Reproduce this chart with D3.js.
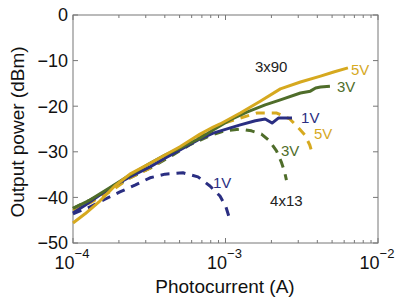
<!DOCTYPE html>
<html><head><meta charset="utf-8">
<script src="https://cdn.jsdelivr.net/npm/d3@7"></script>
<style>body{margin:0;background:#fff}svg{display:block}text{font-family:"Liberation Sans",Arial,sans-serif}</style>
</head><body><svg id="c" width="397" height="298"></svg>
<script>
// Data: [photocurrent (A), output power (dBm)]
const solid5V = [[1.00e-4,-45.6],[1.20e-4,-43.6],[1.50e-4,-40.8],[1.88e-4,-37.5],[2.36e-4,-34.9],[3.20e-4,-32.5],[4.01e-4,-30.7],[5.03e-4,-28.9],[6.81e-4,-26.1],[8.30e-4,-24.6],[9.22e-4,-23.9],[1.25e-3,-21.5],[1.69e-3,-18.9],[2.29e-3,-16.2],[3.10e-3,-14.7],[4.20e-3,-13.4],[5.12e-3,-12.5],[6.35e-3,-11.6]];
const solid3V = [[1.00e-4,-42.4],[1.29e-4,-40.6],[1.74e-4,-37.9],[2.36e-4,-35.1],[3.20e-4,-32.5],[4.01e-4,-30.7],[5.03e-4,-29.2],[6.81e-4,-27.0],[8.30e-4,-25.2],[1.07e-3,-23.0],[1.38e-3,-21.3],[1.82e-3,-19.7],[2.29e-3,-18.6],[3.10e-3,-17.1],[3.60e-3,-16.7],[3.90e-3,-16.0],[4.20e-3,-15.8],[4.84e-3,-15.6]];
const solid1V = [[1.00e-4,-43.4],[1.20e-4,-41.7],[1.50e-4,-39.5],[1.88e-4,-37.3],[2.36e-4,-35.5],[3.20e-4,-33.3],[4.01e-4,-31.4],[5.03e-4,-29.6],[6.60e-4,-27.4],[8.30e-4,-25.9],[1.25e-3,-24.1],[1.57e-3,-23.2],[1.82e-3,-22.8],[2.02e-3,-23.7],[2.22e-3,-22.6],[2.73e-3,-22.6]];
const dashed5V = [[1.00e-4,-42.8],[1.29e-4,-41.2],[1.74e-4,-38.8],[2.36e-4,-35.7],[3.20e-4,-33.6],[4.31e-4,-30.7],[5.81e-4,-27.9],[7.84e-4,-25.2],[9.82e-4,-23.7],[1.25e-3,-22.6],[1.61e-3,-21.5],[2.17e-3,-21.5],[2.64e-3,-22.8],[2.98e-3,-24.6],[3.31e-3,-26.3],[3.57e-3,-28.5],[3.73e-3,-30.7]];
const dashed3V = [[1.00e-4,-42.4],[1.29e-4,-40.6],[1.74e-4,-38.4],[2.36e-4,-35.7],[3.20e-4,-33.6],[4.31e-4,-31.1],[5.81e-4,-28.5],[7.84e-4,-26.5],[9.82e-4,-25.4],[1.25e-3,-25.0],[1.48e-3,-25.4],[1.72e-3,-26.1],[1.94e-3,-27.6],[2.16e-3,-29.8],[2.32e-3,-32.2],[2.44e-3,-34.4],[2.51e-3,-36.2]];
const dashed1V = [[1.00e-4,-43.6],[1.29e-4,-42.1],[1.62e-4,-40.4],[2.03e-4,-38.8],[2.55e-4,-37.3],[3.20e-4,-35.7],[4.01e-4,-34.9],[5.26e-4,-34.6],[6.60e-4,-35.5],[7.91e-4,-37.5],[9.20e-4,-39.7],[1.007e-3,-42.1],[1.055e-3,-44.3]];
const yTicks = [0,-10,-20,-30,-40,-50];
const xTicks = [1e-4,1e-3,1e-2];
const xTickLabels = ["−4","−3","−2"];
const labels = [
  {t:"3x90", x:1.56e-3, y:-11.4, c:"#222"},
  {t:"4x13", x:1.96e-3, y:-40.8, c:"#222"},
  {t:"5V", x:6.65e-3, y:-12.0, c:"#d6a91f"},
  {t:"3V", x:5.38e-3, y:-15.8, c:"#4f6d2a"},
  {t:"1V", x:3.13e-3, y:-22.4, c:"#2a2e82"},
  {t:"5V", x:3.80e-3, y:-26.1, c:"#d6a91f"},
  {t:"3V", x:2.31e-3, y:-29.8, c:"#4f6d2a"},
  {t:"1V", x:8.28e-4, y:-36.8, c:"#2a2e82"}
];

const svg = d3.select("#c");
const L=73,R=378,T=15,B=243;
const x = d3.scaleLog().domain([1e-4,1e-2]).range([L,R]);
const y = d3.scaleLinear().domain([-50,0]).range([B,T]);
const axisCol="#777";
const g = svg.append("g");

g.append("rect").attr("x",L).attr("y",T).attr("width",R-L).attr("height",B-T).attr("fill","none").attr("stroke",axisCol).attr("stroke-width",1);

const xt = [];
for (let e=-4;e<-2;e++) for (let m=1;m<10;m++) xt.push(m*Math.pow(10,e));
xt.push(1e-2);
xt.forEach(v=>{
  const major = Math.abs(Math.log10(v)-Math.round(Math.log10(v)))<1e-9;
  const len = major?5:3;
  g.append("line").attr("x1",x(v)).attr("x2",x(v)).attr("y1",B).attr("y2",B-len).attr("stroke",axisCol);
  g.append("line").attr("x1",x(v)).attr("x2",x(v)).attr("y1",T).attr("y2",T+len).attr("stroke",axisCol);
});
yTicks.forEach(v=>{
  g.append("line").attr("x1",L).attr("x2",L+5).attr("y1",y(v)).attr("y2",y(v)).attr("stroke",axisCol);
  g.append("line").attr("x1",R).attr("x2",R-5).attr("y1",y(v)).attr("y2",y(v)).attr("stroke",axisCol);
  g.append("text").attr("x",L-5).attr("y",y(v)).attr("dy","0.36em").attr("text-anchor","end")
   .attr("font-size",18).attr("fill","#111").text(v===0?"0":"−"+Math.abs(v));
});
xTicks.forEach((v,i)=>{
  const t = g.append("text").attr("x",x(v)-1).attr("y",269).attr("text-anchor","middle").attr("font-size",18).attr("fill","#111");
  t.append("tspan").text("10");
  t.append("tspan").attr("dy",-11).attr("font-size",13).text(xTickLabels[i]);
});

g.append("text").attr("x",225).attr("y",293).attr("text-anchor","middle").attr("font-size",19).attr("fill","#111").text("Photocurrent (A)");
g.append("text").attr("transform","translate(24,132) rotate(-90)").attr("text-anchor","middle").attr("font-size",19).attr("fill","#111").text("Output power (dBm)");

const line = d3.line().x(d=>x(d[0])).y(d=>y(d[1]));
const series = [
  {d:dashed1V,c:"#2a2e82",dash:true},
  {d:dashed3V,c:"#4f6d2a",dash:true},
  {d:dashed5V,c:"#d6a91f",dash:true},
  {d:solid1V,c:"#2a2e82",dash:false},
  {d:solid3V,c:"#4f6d2a",dash:false},
  {d:solid5V,c:"#d6a91f",dash:false}
];
series.forEach(s=>{
  g.append("path").attr("d",line(s.d)).attr("fill","none").attr("stroke",s.c)
   .attr("stroke-width",3).attr("stroke-linejoin","round")
   .attr("stroke-dasharray",s.dash?"9,7":null);
});

labels.forEach(l=>{
  g.append("text").attr("x",x(l.x)).attr("y",y(l.y)).attr("dy","0.36em").attr("font-size",15).attr("fill",l.c).text(l.t);
});
</script></body></html>
